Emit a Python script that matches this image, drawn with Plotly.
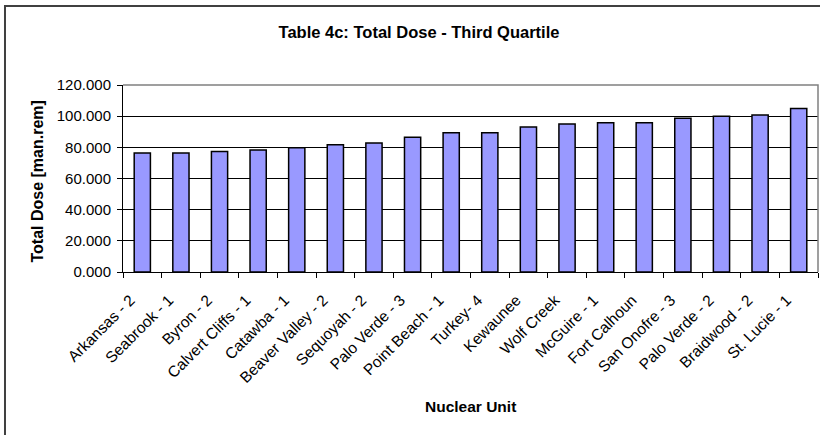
import plotly.graph_objects as go

units = ["Arkansas - 2", "Seabrook - 1", "Byron - 2", "Calvert Cliffs - 1", "Catawba - 1",
         "Beaver Valley - 2", "Sequoyah - 2", "Palo Verde - 3", "Point Beach - 1", "Turkey- 4",
         "Kewaunee", "Wolf Creek", "McGuire - 1", "Fort Calhoun", "San Onofre - 3",
         "Palo Verde - 2", "Braidwood - 2", "St. Lucie - 1"]
total_dose = [76.4, 76.4, 77.4, 78.3, 79.8, 81.7, 82.8, 86.4, 89.4, 89.4,
              93.0, 95.0, 95.8, 95.8, 98.6, 100.0, 100.7, 105.0]
y_ticks = [0, 20, 40, 60, 80, 100, 120]

FONT = "Arial, Liberation Sans, sans-serif"

fig = go.Figure(go.Bar(
    x=units, y=total_dose,
    marker=dict(color="#9999FF", line=dict(color="black", width=1.5)),
))

fig.update_layout(
    width=820, height=435,
    margin=dict(l=123, r=2, t=85, b=163, autoexpand=False),
    paper_bgcolor="white", plot_bgcolor="white",
    bargap=0.58,
    showlegend=False,
    font=dict(family=FONT, color="black"),
    title=dict(text="<b>Table 4c: Total Dose - Third Quartile</b>",
               x=419/820, xanchor="center", y=1-32/435, yanchor="middle",
               font=dict(size=16.5, family=FONT, color="black")),
)

fig.update_xaxes(
    type="category", tickangle=-45, tickson="boundaries", automargin=False,
    ticks="outside", ticklen=5, tickcolor="black", tickwidth=1,
    showline=True, linecolor="black", linewidth=1,
    tickfont=dict(size=15.5, family=FONT, color="black"),
    ticklabelstandoff=12, ticklabelshift=-12,
    showgrid=False,
)
fig.update_yaxes(
    range=[0, 120], tickvals=y_ticks, tickformat=".3f", automargin=False,
    ticks="outside", ticklen=5, tickcolor="black", tickwidth=1,
    showline=True, linecolor="black", linewidth=1,
    showgrid=True, gridcolor="black", gridwidth=1,
    zeroline=False, ticklabelstandoff=3,
    tickfont=dict(size=15, family=FONT, color="black"),
)

# axis titles
fig.add_annotation(text="<b>Nuclear Unit</b>", xref="paper", yref="paper",
                   x=0.5, y=(272-406)/187, xanchor="center", yanchor="middle",
                   showarrow=False, font=dict(size=15.5, family=FONT, color="black"))
fig.add_annotation(text="<b>Total Dose [man.rem]</b>", xref="paper", yref="paper",
                   x=(37-123)/695, y=(272-181.5)/187, xanchor="center", yanchor="middle",
                   textangle=-90, showarrow=False,
                   font=dict(size=16, family=FONT, color="black"))

# plot area border (top and right, gray)
fig.add_shape(type="path", xref="paper", yref="paper",
              path="M 0 1 L 1 1 L 1 0", line=dict(color="#808080", width=1.5), layer="above")
# outer chart border (left and top, cropped)
fig.add_shape(type="path", xref="paper", yref="paper",
              path="M -0.1698 -1.2 L -0.1698 1.4225 L 2 1.4225",
              line=dict(color="#404040", width=2), layer="above")

fig.write_html("out.html", config={"displayModeBar": False},
               post_script="document.body.style.margin='0';document.body.style.overflow='hidden';")
